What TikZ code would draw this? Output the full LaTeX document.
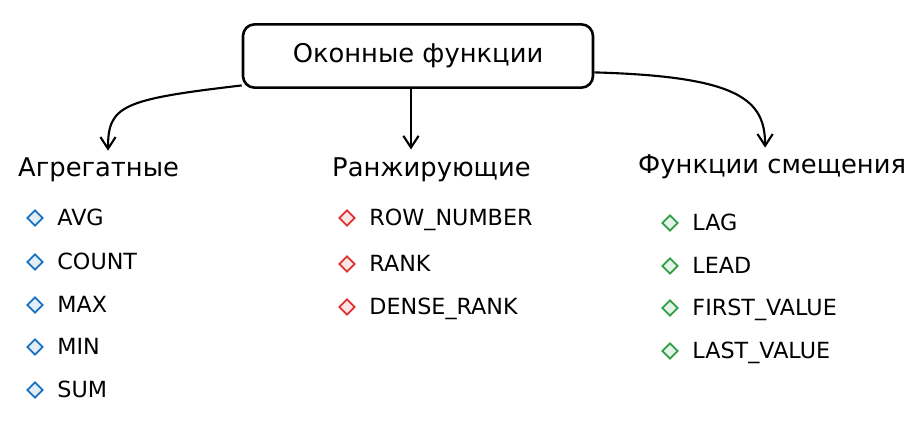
\documentclass[tikz,border=0pt]{standalone}
\usepackage{fontspec}
\setmainfont{DejaVu Sans}
\usetikzlibrary{positioning,shapes.geometric,arrows.meta}
\definecolor{aggblue}{HTML}{1971C2}
\definecolor{rankred}{HTML}{E03131}
\definecolor{offgreen}{HTML}{2F9E44}
\begin{document}
\begin{tikzpicture}[x=0.03cm,y=-0.03cm,
  titlebox/.style={draw,line width=2.2pt,rounded corners=10pt,minimum width=10.5cm,minimum height=1.9cm,font=\fontsize{22}{26}\selectfont},
  heading/.style={anchor=west,inner sep=0pt,font=\fontsize{22}{26}\selectfont},
  bullet/.style={diamond,draw=#1,fill=#1!12,line width=1.5pt,inner sep=0pt,minimum size=0.48cm},
  item/.style={right=0.4cm of #1,inner sep=0pt,text height=13pt,text depth=0pt,font=\fontsize{19}{22}\selectfont},
  hand/.style={line width=1.8pt,-{Straight Barb[length=10pt,width=13pt]}}]
\useasboundingbox (0,0) rectangle (915,430);
\node[titlebox] (title) at (418,56) {Оконные функции};
\node[heading] (agg) at (18,170) {Агрегатные};
\node[heading] (rank) at (332,170) {Ранжирующие};
\node[heading] (shift) at (638,167) {Функции смещения};
% aggregate
\node[bullet=aggblue] (avgb) at (35,218) {};
\node[item=avgb] (avg) {AVG};
\node[bullet=aggblue] (countb) at (35,262) {};
\node[item=countb] (count) {COUNT};
\node[bullet=aggblue] (maxb) at (35,305) {};
\node[item=maxb] (max) {MAX};
\node[bullet=aggblue] (minb) at (35,347) {};
\node[item=minb] (min) {MIN};
\node[bullet=aggblue] (sumb) at (35,390) {};
\node[item=sumb] (sum) {SUM};
% ranking
\node[bullet=rankred] (rownumb) at (347,218) {};
\node[item=rownumb] (rownum) {ROW\_NUMBER};
\node[bullet=rankred] (rankb) at (347,264) {};
\node[item=rankb] (rk) {RANK};
\node[bullet=rankred] (denseb) at (347,307) {};
\node[item=denseb] (dense) {DENSE\_RANK};
% offset
\node[bullet=offgreen] (lagb) at (670,223) {};
\node[item=lagb] (lag) {LAG};
\node[bullet=offgreen] (leadb) at (670,266) {};
\node[item=leadb] (lead) {LEAD};
\node[bullet=offgreen] (firstb) at (670,308) {};
\node[item=firstb] (first) {FIRST\_VALUE};
\node[bullet=offgreen] (lastb) at (670,351) {};
\node[item=lastb] (last) {LAST\_VALUE};
% arrows
\draw[hand] ([yshift=3pt]title.south west) .. controls +(-120,14) and +(0,-45) .. ([xshift=8pt,yshift=6pt]agg.north);
\draw[hand] ([xshift=-6pt]title.south) -- ([xshift=-6pt,yshift=7pt]title.south |- rank.north);
\draw[hand] ([yshift=-14pt]title.east) .. controls +(145,4) and +(0,-48) .. ([xshift=-6pt,yshift=6pt]shift.north);
\end{tikzpicture}
\end{document}
